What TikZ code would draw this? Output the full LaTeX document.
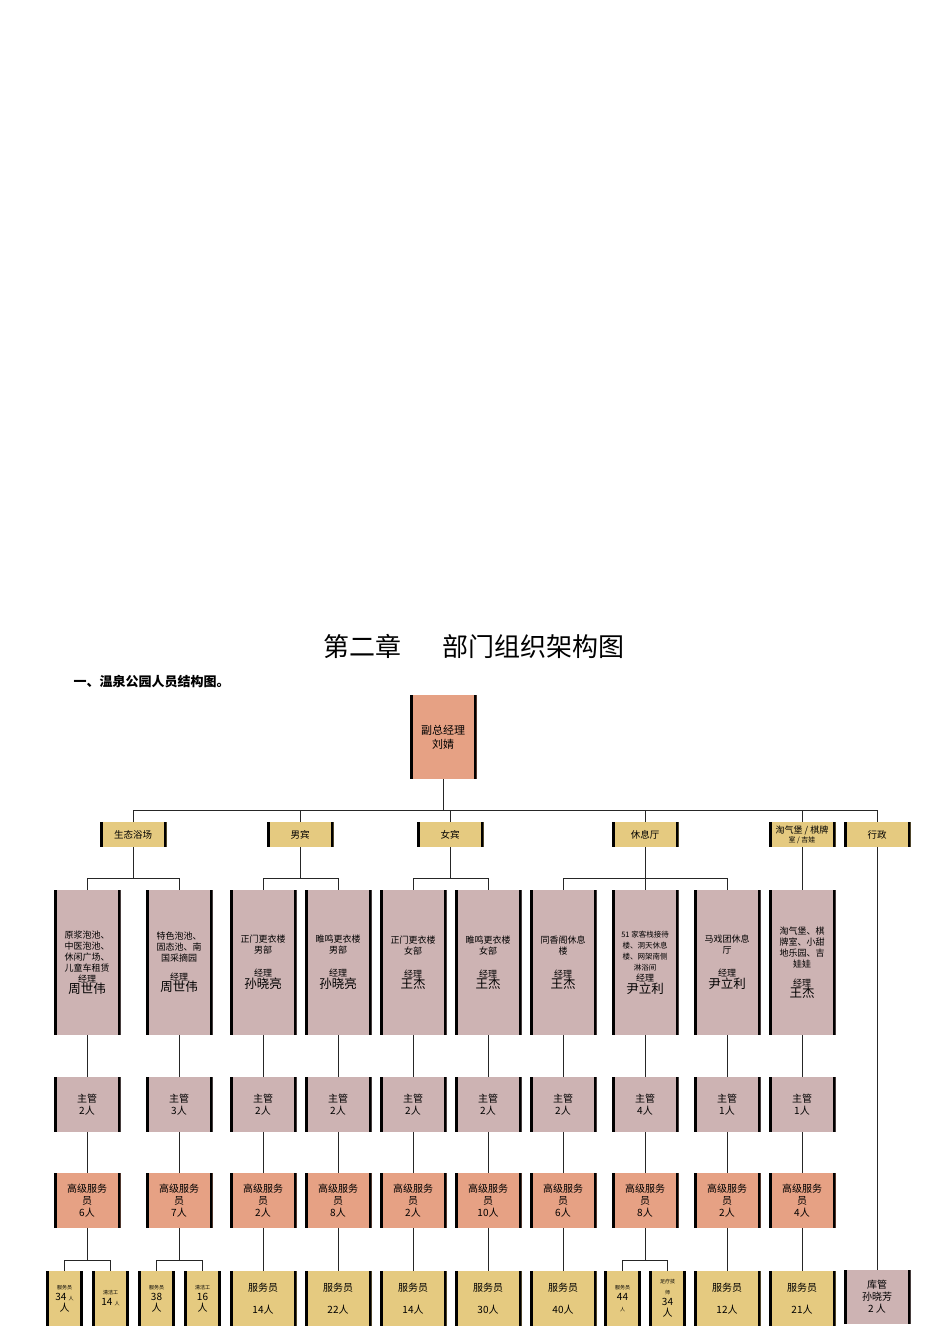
\documentclass[tikz,border=0pt]{standalone}
\usepackage{fontspec}
\setmainfont{Liberation Serif}
\newfontfamily\cjk{Noto Sans CJK SC}
\newcommand\mgr[1]{\\[8pt]经理\\{\fontsize{12.5}{15}\selectfont #1}}
\begin{document}
\begin{tikzpicture}[x=1pt,y=-1pt,
 bar/.style={path picture={\fill[black] (path picture bounding box.south west) rectangle ([xshift=3pt]path picture bounding box.north west);
   \fill[black] (path picture bounding box.south east) rectangle ([xshift=-3pt]path picture bounding box.north east);}},
 bx/.style={bar,inner sep=1pt,align=center,font=\cjk\fontsize{9}{11}\selectfont},
 pink/.style={bx,fill=pinkc},
 gold/.style={bx,fill=goldc},
 salm/.style={bx,fill=salmc},
 mbox/.style={pink,minimum width=67pt,minimum height=145pt},
 ln/.style={draw=black!85,line width=1pt}]
\definecolor{pinkc}{HTML}{CDB3B3}
\definecolor{goldc}{HTML}{E5CA80}
\definecolor{salmc}{HTML}{E6A184}
\useasboundingbox (0,0) rectangle (950,1344);
\node[font=\cjk\fontsize{26}{30}\selectfont] (title) at (474,646) {第二章\hspace{1.6em}部门组织架构图};
\node[anchor=west,font=\cjk\bfseries\fontsize{13}{15}\selectfont] (sub) at (70,682) {一、温泉公园人员结构图。};
\node[salm,minimum width=67pt,minimum height=84pt,font=\cjk\fontsize{11}{14}\selectfont] (top) at (443,737) {副总经理\\刘婧};
% categories
\foreach \n/\x/\t in {c1/133/生态浴场,c2/300/男宾,c3/450/女宾,c4/645/休息厅,c6/877/行政}
  \node[gold,minimum width=67pt,minimum height=25pt,font=\cjk\fontsize{9.5}{11}\selectfont] (\n) at (\x,834.5) {\t};
\node[gold,minimum width=67pt,minimum height=25pt,font=\cjk\fontsize{9}{10}\selectfont] (c5) at (802,834.5) {淘气堡 / 棋牌\\[-1pt]{\fontsize{7}{8}\selectfont 室 / 吉娃}};
\draw[ln] (top.south) -- (443,810);
\draw[ln] (c1.north) |- (443,810) -| (c6.north);
\foreach \c in {c2,c3,c4,c5} \draw[ln] (\c.north) -- (\c.north |- 0,810);
% managers
\node[mbox] (m1) at (87,962.5) {原浆泡池、\\中医泡池、\\休闲广场、\\儿童车租赁\\经理\\{\fontsize{12.5}{15}\selectfont 周世伟}};
\node[mbox] (m2) at (179,962.5) {特色泡池、\\固态池、南\\国采摘园\mgr{周世伟}};
\node[mbox] (m3) at (263,962.5) {正门更衣楼\\男部\\[12pt]经理\\{\fontsize{12.5}{15}\selectfont 孙晓亮}};
\node[mbox] (m4) at (338,962.5) {睢鸣更衣楼\\男部\\[12pt]经理\\{\fontsize{12.5}{15}\selectfont 孙晓亮}};
\node[mbox] (m5) at (413,962.5) {正门更衣楼\\女部\\[12pt]经理\\{\fontsize{12.5}{15}\selectfont 王杰}};
\node[mbox] (m6) at (488,962.5) {睢鸣更衣楼\\女部\\[12pt]经理\\{\fontsize{12.5}{15}\selectfont 王杰}};
\node[mbox] (m7) at (563,962.5) {同香阁休息\\楼\\[12pt]经理\\{\fontsize{12.5}{15}\selectfont 王杰}};
\node[mbox] (m8) at (645,962.5) {{\fontsize{7.5}{11}\selectfont 51 家客栈接待}\\{\fontsize{7.5}{11}\selectfont 楼、洞天休息}\\{\fontsize{7.5}{11}\selectfont 楼、网架南侧}\\{\fontsize{7.5}{11}\selectfont 淋浴间}\\经理\\{\fontsize{12.5}{15}\selectfont 尹立利}};
\node[mbox] (m9) at (727,962.5) {马戏团休息\\厅\\[12pt]经理\\{\fontsize{12.5}{15}\selectfont 尹立利}};
\node[mbox] (m10) at (802,962.5) {淘气堡、棋\\牌室、小甜\\地乐园、吉\\娃娃\mgr{王杰}};
\foreach \i/\x/\a/\b in {1/87/2/6,2/179/3/7,3/263/2/2,4/338/2/8,5/413/2/2,6/488/2/10,7/563/2/6,8/645/4/8,9/727/1/2,10/802/1/4}{
 \node[pink,minimum width=67pt,minimum height=55pt,font=\cjk\fontsize{10}{12}\selectfont] (s\i) at (\x,1104.5) {主管\\\a 人};
 \node[salm,minimum width=67pt,minimum height=55pt,font=\cjk\fontsize{10}{12}\selectfont] (h\i) at (\x,1200.5) {高级服务\\员\\\b 人};
 \draw[ln] (m\i.south) -- (s\i.north);
 \draw[ln] (s\i.south) -- (h\i.north);
}
\foreach \c/\a/\b in {c1/m1/m2,c2/m3/m4,c3/m5/m6,c4/m7/m9}
 \draw[ln] (\c.south) -- (\c.south |- 0,878) (\a.north) |- (\b.north |- 0,878) -- (\b.north);
\draw[ln] (c4.south) -- (m8.north);
\draw[ln] (c5.south) -- (m10.north);
% bottom
\foreach \i/\x/\n in {3/263/14,4/338/22,5/413/14,6/488/30,7/563/40,9/727/12,10/802/21}{
 \node[gold,minimum width=67pt,minimum height=55pt,font=\cjk\fontsize{10}{12}\selectfont] (b\i) at (\x,1298.5) {服务员\\[10pt]\n 人};
 \draw[ln] (h\i.south) -- (b\i.north);
}
\tikzset{sm/.style={gold,minimum width=37pt,minimum height=55pt,font=\cjk\fontsize{10}{11}\selectfont}}
\node[sm] (b1a) at (64.5,1298.5) {{\fontsize{5}{6}\selectfont 服务员}\\34 {\fontsize{5}{6}\selectfont 人}\\人};
\node[sm] (b1b) at (110.5,1298.5) {{\fontsize{5}{6}\selectfont 清洁工}\\14 {\fontsize{5}{6}\selectfont 人}};
\node[sm] (b2a) at (156.5,1298.5) {{\fontsize{5}{6}\selectfont 服务员}\\38\\人};
\node[sm] (b2b) at (202.5,1298.5) {{\fontsize{5}{6}\selectfont 清洁工}\\16\\人};
\node[sm] (b8a) at (622.5,1298.5) {{\fontsize{5}{6}\selectfont 服务员}\\44\\{\fontsize{5}{6}\selectfont 人}};
\node[sm] (b8b) at (667.5,1298.5) {{\fontsize{5}{6}\selectfont 足疗技}\\{\fontsize{5}{6}\selectfont 师}\\34\\人};
\foreach \h/\a/\b in {h1/b1a/b1b,h2/b2a/b2b,h8/b8a/b8b}
 \draw[ln] (\h.south) -- (\h.south |- 0,1260) (\a.north) |- (\b.north |- 0,1260) -- (\b.north);
\node[pink,minimum width=67pt,minimum height=54pt,font=\cjk\fontsize{10}{12}\selectfont] (k) at (877,1297) {库管\\孙晓芳\\2 人};
\draw[ln] (c6.south) -- (k.north);
\end{tikzpicture}
\end{document}
